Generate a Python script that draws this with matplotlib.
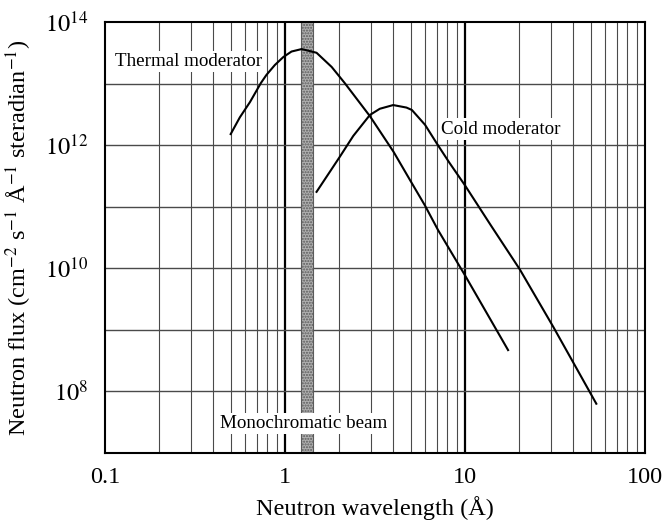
import matplotlib
matplotlib.use("Agg")
import matplotlib.pyplot as plt
from matplotlib.ticker import FixedLocator, NullLocator, FixedFormatter

plt.rcParams['font.family'] = ['Liberation Serif', 'DejaVu Serif']
plt.rcParams['mathtext.fontset'] = 'stix'

# Thermal moderator spectrum (wavelength in Å, flux)
thermal_x = [0.50, 0.562, 0.64, 0.736, 0.79, 0.88, 0.98, 1.089, 1.24, 1.50, 1.82, 2.15,
             2.97, 4.02, 5.0, 6.0, 7.1, 10.0, 13.2, 17.4]
thermal_y = [1.51e12, 2.82e12, 5.0e12, 1.02e13, 1.38e13, 2.0e13, 2.69e13, 3.31e13, 3.63e13,
             3.16e13, 1.86e13, 1.02e13, 2.95e12, 7.76e11, 2.6e11, 1.05e11, 4.17e10,
             7.76e9, 1.9e9, 4.68e8]

# Cold moderator spectrum
cold_x = [1.50, 2.02, 2.40, 2.97, 3.37, 4.0, 4.74, 5.08, 6.01, 6.98, 8.2, 10.0, 14.0,
          20.2, 31.0, 42.0, 53.8]
cold_y = [1.74e11, 6.46e11, 1.41e12, 3.09e12, 3.89e12, 4.47e12, 4.07e12, 3.72e12, 2.14e12,
          1.07e12, 5.2e11, 2.24e11, 4.9e10, 9.6e9, 1.12e9, 2.3e8, 6.3e7]

# Monochromatic beam band
beam_range = [1.23, 1.43]

x_ticks = [0.1, 1, 10, 100]
x_ticklabels = ['0.1', '1', '10', '100']
y_ticks = [1e8, 1e10, 1e12, 1e14]
y_ticklabels = [r'$10^{8}$', r'$10^{10}$', r'$10^{12}$', r'$10^{14}$']
x_grid_minor = [m * d for d in (0.1, 1, 10) for m in range(2, 10)]
x_grid_major = [1, 10]
y_grid = [1e8, 1e9, 1e10, 1e11, 1e12, 1e13]

fig = plt.figure(figsize=(6.64, 5.23), dpi=100)
ax = fig.add_axes([0.158, 0.134, 0.813, 0.824])
ax.set_xscale('log')
ax.set_yscale('log')
ax.set_xlim(0.1, 100)
ax.set_ylim(1e7, 1e14)

for gx in x_grid_minor:
    ax.axvline(gx, color='#4a4a4a', lw=0.8, zorder=1)
for gx in x_grid_major:
    ax.axvline(gx, color='black', lw=1.6, zorder=1)
for gy in y_grid:
    ax.axhline(gy, color='#4a4a4a', lw=1.0, zorder=1)

ax.axvspan(beam_range[0], beam_range[1], facecolor='#b0b0b0', edgecolor='#5a5a5a',
           hatch='......', lw=0.8, zorder=2)

ax.plot(thermal_x, thermal_y, color='black', lw=1.5, zorder=4, solid_joinstyle='round')
ax.plot(cold_x, cold_y, color='black', lw=1.5, zorder=4, solid_joinstyle='round')

bb = dict(facecolor='white', edgecolor='none', pad=1.5)
ax.text(0.1136, 2.25e13, 'Thermal moderator', fontsize=13.7, ha='left', va='center', bbox=bb, zorder=5)
ax.text(7.36, 1.82e12, 'Cold moderator', fontsize=13.7, ha='left', va='center', bbox=bb, zorder=5)
ax.text(0.435, 3.0e7, 'Monochromatic beam', fontsize=13.7, ha='left', va='center', bbox=bb, zorder=5)

ax.xaxis.set_major_locator(FixedLocator(x_ticks))
ax.xaxis.set_major_formatter(FixedFormatter(x_ticklabels))
ax.xaxis.set_minor_locator(NullLocator())
ax.yaxis.set_major_locator(FixedLocator(y_ticks))
ax.yaxis.set_major_formatter(FixedFormatter(y_ticklabels))
ax.yaxis.set_minor_locator(NullLocator())
ax.tick_params(axis='both', which='both', length=0, labelsize=17.5)
ax.tick_params(axis='x', pad=10)
ax.tick_params(axis='y', pad=12)

for s in ax.spines.values():
    s.set_linewidth(1.5)

ax.set_xlabel('Neutron wavelength (Å)', fontsize=17.5, labelpad=6)
ax.set_ylabel(r'Neutron flux (cm$^{-2}$ s$^{-1}$ Å$^{-1}$ steradian$^{-1}$)', fontsize=17.5, labelpad=8)

fig.savefig('out.png', dpi=100)
